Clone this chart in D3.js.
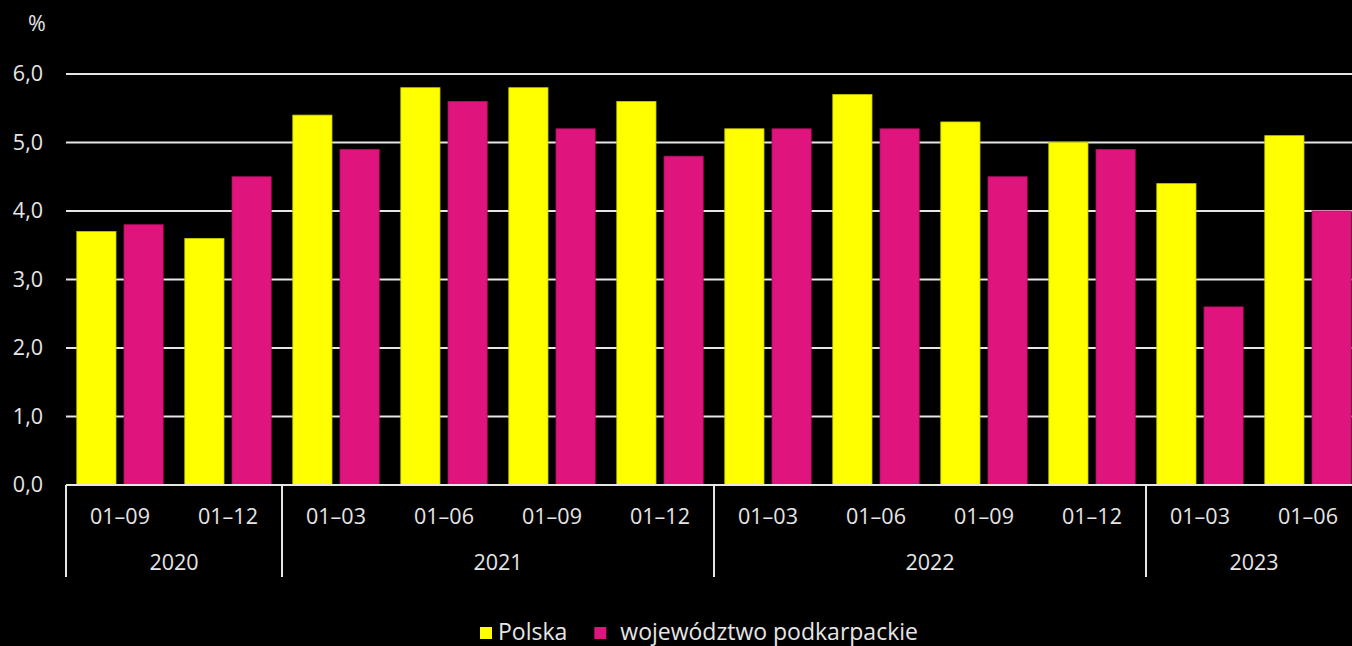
<!DOCTYPE html>
<html>
<head>
<meta charset="utf-8">
<script src="https://cdn.jsdelivr.net/npm/d3@7"></script>
<style>
  html, body { margin: 0; padding: 0; background: #000; overflow: hidden; }
  svg { display: block; }
  text { font-family: "Open Sans", "Noto Sans", sans-serif; fill: #e6e6e6; }
</style>
</head>
<body>
<svg id="chart" width="1352" height="646"></svg>
<script>
// data
const YEARS = ["2020", "2021", "2022", "2023"];
const PERIODS = [
  ["2020", "01–09"], ["2020", "01–12"],
  ["2021", "01–03"], ["2021", "01–06"], ["2021", "01–09"], ["2021", "01–12"],
  ["2022", "01–03"], ["2022", "01–06"], ["2022", "01–09"], ["2022", "01–12"],
  ["2023", "01–03"], ["2023", "01–06"]
];
const SERIES = ["Polska", "województwo podkarpackie"];
const POLSKA = [3.7, 3.6, 5.4, 5.8, 5.8, 5.6, 5.2, 5.7, 5.3, 5.0, 4.4, 5.1];
const PODKARPACKIE = [3.8, 4.5, 4.9, 5.6, 5.2, 4.8, 5.2, 5.2, 4.5, 4.9, 2.6, 4.0];
const Y_TICKS = [0, 1, 2, 3, 4, 5, 6];

const COLORS = { "Polska": "#ffff00", "województwo podkarpackie": "#df147c" };
const STROKES = { "Polska": "#c8c800", "województwo podkarpackie": "#b0105f" };

const M = { left: 66, top: 74, bottom: 161 };
const W = 1352, H = 646;
const PLOT_BOTTOM = H - M.bottom;   // 485
const PLOT_RIGHT = M.left + 108 * PERIODS.length; // runs past the right edge, as in the reference
const FONT = "21.5px";

const svg = d3.select("#chart");

const rows = PERIODS.map((p, i) => ({
  key: p[0] + " " + p[1], year: p[0], period: p[1],
  values: [POLSKA[i], PODKARPACKIE[i]]
}));

const x0 = d3.scaleBand().domain(rows.map(d => d.key)).range([M.left, PLOT_RIGHT]).paddingInner(0.2).paddingOuter(0.1);
const x1 = d3.scaleBand().domain(SERIES).range([0, x0.bandwidth()]).paddingInner(0.17);
const y = d3.scaleLinear().domain([0, 6]).range([PLOT_BOTTOM, M.top]);

// gridlines
svg.append("g")
  .selectAll("line").data(Y_TICKS.filter(t => t > 0)).join("line")
  .attr("x1", M.left).attr("x2", W)
  .attr("y1", d => y(d)).attr("y2", d => y(d))
  .attr("stroke", "#e6e6e6").attr("stroke-width", 2);

// y axis labels
const yAxis = svg.append("g")
  .attr("transform", `translate(${M.left},0)`)
  .call(d3.axisLeft(y).tickValues(Y_TICKS).tickSize(0).tickPadding(23)
    .tickFormat(d => d3.format(".1f")(d).replace(".", ",")));
yAxis.select(".domain").remove();
yAxis.selectAll("text").style("font-size", FONT).attr("fill", "#e6e6e6");

svg.append("text").attr("x", 37).attr("y", 31)
  .attr("text-anchor", "middle").style("font-size", FONT).text("%");

// bars
svg.append("g")
  .selectAll("g").data(rows).join("g")
  .attr("transform", d => `translate(${x0(d.key)},0)`)
  .selectAll("rect").data(d => SERIES.map((s, i) => ({ s, v: d.values[i] }))).join("rect")
  .attr("x", d => x1(d.s))
  .attr("width", x1.bandwidth())
  .attr("y", d => y(d.v))
  .attr("height", d => y(0) - y(d.v))
  .attr("fill", d => COLORS[d.s])
  .attr("stroke", d => STROKES[d.s]).attr("stroke-width", 0.8);

// x axis line
svg.append("line")
  .attr("x1", M.left).attr("x2", W)
  .attr("y1", PLOT_BOTTOM).attr("y2", PLOT_BOTTOM)
  .attr("stroke", "#e6e6e6").attr("stroke-width", 2);

// period labels
svg.append("g")
  .selectAll("text").data(rows).join("text")
  .attr("x", d => x0(d.key) + x0.bandwidth() / 2)
  .attr("y", 524)
  .attr("text-anchor", "middle")
  .style("font-size", FONT)
  .text(d => d.period);

// year groups
const yearSpan = YEARS.map(yr => {
  const keys = rows.filter(r => r.year === yr).map(r => r.key);
  const step = x0.step();
  const start = x0(keys[0]) - x0.paddingOuter() * step;
  const end = x0(keys[keys.length - 1]) - x0.paddingOuter() * step + step;
  return { yr, start, end };
});

svg.append("g")
  .selectAll("line").data(yearSpan).join("line")
  .attr("x1", d => d.start).attr("x2", d => d.start)
  .attr("y1", PLOT_BOTTOM).attr("y2", 577)
  .attr("stroke", "#e6e6e6").attr("stroke-width", 2);

svg.append("g")
  .selectAll("text").data(yearSpan).join("text")
  .attr("x", d => (d.start + d.end) / 2)
  .attr("y", 570)
  .attr("text-anchor", "middle")
  .style("font-size", FONT)
  .text(d => d.yr);

// legend
const legend = svg.append("g").attr("transform", "translate(480,640)");
let lx = 0;
SERIES.forEach((s, i) => {
  const g = legend.append("g").attr("transform", `translate(${lx},0)`);
  const gap = i === 0 ? 18 : 26;
  g.append("rect").attr("x", 0).attr("y", -13).attr("width", 12).attr("height", 12).attr("fill", COLORS[s]);
  const t = g.append("text").attr("x", gap).attr("y", 0).style("font-size", "23px").text(s);
  lx += gap + t.node().getComputedTextLength() + 27;
});
</script>
</body>
</html>
